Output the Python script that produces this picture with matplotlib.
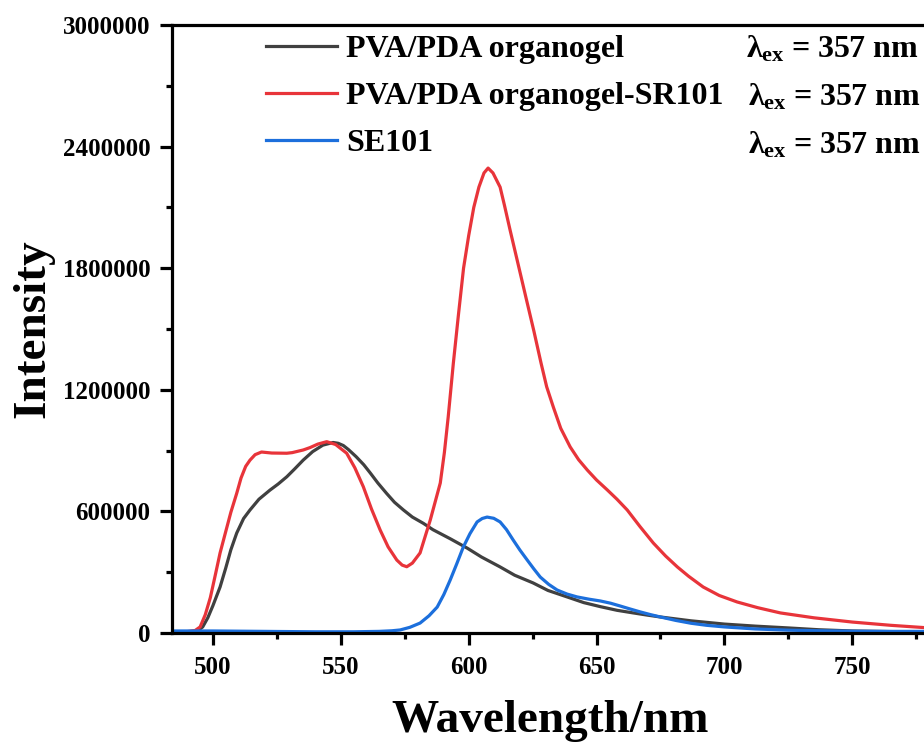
import matplotlib
matplotlib.use("Agg")
import matplotlib.pyplot as plt
from matplotlib.ticker import MultipleLocator, FuncFormatter
from matplotlib.lines import Line2D

plt.rcParams['font.family'] = ['Liberation Serif', 'DejaVu Serif']
plt.rcParams['font.weight'] = 'bold'
plt.rcParams['mathtext.fontset'] = 'custom'
plt.rcParams['mathtext.rm'] = 'Liberation Serif:bold'
plt.rcParams['mathtext.it'] = 'Liberation Serif:bold'
plt.rcParams['mathtext.bf'] = 'Liberation Serif:bold'

# Emission spectra (wavelength in nm, intensity in counts)
gel_wl = [484, 490, 494, 496, 498, 500, 502.8, 505, 507, 509.3, 512, 514.5, 518, 522.3,
          525.5, 528.9, 532, 535.3, 539, 543, 547, 549, 551, 553, 556, 559, 561.5, 564.5,
          567.9, 571, 574.5, 578, 582.3, 586, 592.8, 599.4, 605, 612.3, 618, 625.2, 631,
          638.5, 645, 651.5, 658, 664.4, 670, 675, 687, 700, 712, 725, 737, 750, 765, 780]
gel_int = [5e3, 6e3, 10e3, 30e3, 75e3, 135e3, 227e3, 320e3, 410e3, 493e3, 565e3, 607e3,
           660e3, 705e3, 735e3, 771e3, 810e3, 853e3, 895e3, 927e3, 940e3, 936e3, 925e3,
           905e3, 870e3, 830e3, 790e3, 740e3, 689e3, 645e3, 607e3, 572e3, 541e3, 510e3,
           465e3, 419e3, 375e3, 326e3, 285e3, 247e3, 210e3, 178e3, 150e3, 130e3, 112e3,
           99e3, 88e3, 79e3, 60e3, 44e3, 34e3, 25e3, 16e3, 10e3, 7e3, 5e3]

sr_wl = [484, 490, 493, 495, 497, 499, 501, 502.8, 505, 507, 509.3, 511, 512.8, 514.5,
         516.5, 519, 523, 528.9, 531, 535.3, 538, 541, 544.5, 548, 552.3, 555.5, 558.8,
         562, 565.4, 568.5, 571.9, 574, 575.8, 578, 581, 585, 588.9, 590.5, 592, 594, 596,
         598, 600, 602, 604, 606, 607.6, 609.5, 612.3, 614, 616.2, 619, 622.5, 625.5, 628.3,
         630.5, 633.1, 636, 639.7, 643, 646.4, 650, 654.2, 658, 662, 667, 672.2, 677, 681.6,
         686, 691.7, 698, 705, 713, 721.9, 735, 750, 765, 780]
sr_int = [5e3, 7e3, 12e3, 30e3, 90e3, 175e3, 290e3, 395e3, 500e3, 595e3, 689e3, 765e3,
          822e3, 853e3, 880e3, 893e3, 888e3, 887e3, 890e3, 903e3, 915e3, 932e3, 944e3,
          930e3, 887e3, 815e3, 722e3, 612e3, 508e3, 425e3, 360e3, 335e3, 327e3, 345e3,
          395e3, 558e3, 740e3, 890e3, 1066e3, 1330e3, 1570e3, 1800e3, 1960e3, 2100e3,
          2200e3, 2270e3, 2294e3, 2270e3, 2200e3, 2110e3, 1988e3, 1838e3, 1650e3, 1490e3,
          1332e3, 1215e3, 1115e3, 1010e3, 918e3, 855e3, 804e3, 755e3, 706e3, 660e3, 607e3,
          525e3, 444e3, 380e3, 326e3, 280e3, 227e3, 185e3, 153e3, 125e3, 99e3, 75e3, 54e3,
          38e3, 25e3]

se_wl = [484, 500, 520, 540, 555, 565, 570, 573.2, 577, 581, 584.5, 587.7, 590.3, 592.8,
         595.3, 597.9, 600.5, 603.3, 605.3, 607.2, 609.8, 612.3, 614.8, 617.4, 620, 622.9,
         625.5, 628, 631.3, 634.6, 638.5, 642.4, 647, 651.5, 655.5, 659.3, 663, 667.1, 671,
         675, 681, 687, 693, 700, 712, 725, 737, 750, 765, 780]
se_int = [10e3, 10e3, 8e3, 6e3, 6e3, 8e3, 11e3, 15e3, 28e3, 49e3, 85e3, 128e3, 190e3,
          262e3, 340e3, 424e3, 490e3, 548e3, 565e3, 572e3, 566e3, 548e3, 510e3, 459e3,
          410e3, 360e3, 316e3, 276e3, 240e3, 212e3, 192e3, 178e3, 167e3, 158e3, 147e3,
          133e3, 119e3, 104e3, 91e3, 79e3, 62e3, 48e3, 38e3, 30e3, 20e3, 14e3, 11e3, 9e3,
          8e3, 8e3]

series_labels = ['PVA/PDA organogel', 'PVA/PDA organogel-SR101', 'SE101']
series_colors = ['#404040', '#e8343a', '#1c6fdc']
excitation_label = r'$\lambda_{\rm ex}$ = 357 nm'

y_ticks = [0, 600000, 1200000, 1800000, 2400000, 3000000]
x_ticks = [500, 550, 600, 650, 700, 750]

fig = plt.figure(figsize=(9.24, 7.42), dpi=100)
ax = fig.add_axes([172 / 924, 109 / 742, 757 / 924, 608 / 742])

lw = 2.3
for wl, inten, c in zip([gel_wl, sr_wl, se_wl], [gel_int, sr_int, se_int], series_colors):
    ax.plot(wl, inten, color=c, lw=lw, solid_joinstyle='round')

ax.set_xlim(484, 780)
ax.set_ylim(0, 3000000)
ax.set_xticks(x_ticks)
ax.set_yticks(y_ticks)
ax.xaxis.set_minor_locator(MultipleLocator(25))
ax.yaxis.set_minor_locator(MultipleLocator(300000))
ax.yaxis.set_major_formatter(FuncFormatter(lambda v, p: f'{v:.0f}'))

for side in ['left', 'bottom', 'top']:
    ax.spines[side].set_linewidth(2.3)
ax.spines['right'].set_visible(False)

ax.tick_params(which='major', direction='out', length=8.5, width=2.3, labelsize=18)
ax.tick_params(which='minor', direction='out', length=4.5, width=2.3)
ax.tick_params(axis='x', which='major', pad=8)
ax.tick_params(axis='y', which='major', pad=7)
ax.tick_params(top=False, right=False, which='both')

ax.set_xlabel('Wavelength/nm', fontsize=34, fontweight='bold', labelpad=15)
ax.set_ylabel('Intensity', fontsize=34, fontweight='bold', labelpad=6)

handles = [Line2D([], [], color=c, lw=lw) for c in series_colors]
leg = ax.legend(handles, series_labels, loc='upper left', bbox_to_anchor=(0.1246, 0.984),
                frameon=False, fontsize=23, handlelength=2.22, handletextpad=0.28,
                labelspacing=0.55, borderpad=0.0, borderaxespad=0.0)
for t in leg.get_texts():
    t.set_fontweight('bold')

row_y = [0.9605, 0.8816, 0.8026]
row_x = [0.7587, 0.7613, 0.7613]
for x, y in zip(row_x, row_y):
    ax.text(x, y, excitation_label, transform=ax.transAxes, fontsize=23,
            fontweight='bold', va='center', ha='left')

fig.savefig('out.png', dpi=100)
